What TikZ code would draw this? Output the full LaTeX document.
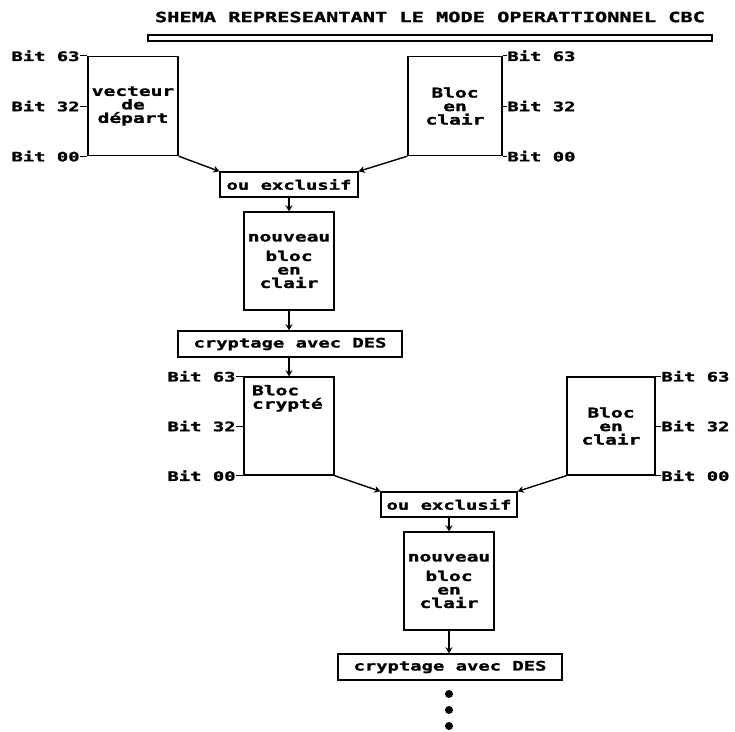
\documentclass[tikz,border=0pt]{standalone}
\usepackage{fontspec}
\usetikzlibrary{arrows.meta,positioning,calc}
\newfontfamily\pixfont[FakeStretch=1.45,FakeBold=1.5]{DejaVu Sans Mono}

\begin{document}
\begin{tikzpicture}[x=1pt,y=-1pt,>={Stealth[length=6pt,width=7pt]},line width=1.4pt,
  every node/.style={font=\pixfont\bfseries\fontsize{13}{13}\selectfont},
  blk/.style={draw,minimum width=90pt,minimum height=99pt,inner sep=1pt,align=center,
    font=\pixfont\bfseries\fontsize{13.5}{13.5}\selectfont},
  op/.style={draw,minimum height=25pt,inner sep=2pt},
  bit/.style={inner sep=0pt}]
        \useasboundingbox (0,0) rectangle (735,731);
        % titre
        \node[font=\pixfont\bfseries\fontsize{14}{14}\selectfont] (titre) at (430,17) {SHEMA REPRESEANTANT LE MODE OPERATTIONNEL CBC};
        \draw (148,35) rectangle (712,41);
        % premier tour
        \node[blk] (vec) at (133,106) {vecteur\\de\\d\'epart};
        \node[blk,minimum width=94pt] (clr1) at (455,106) {Bloc\\en\\clair};
        \node[op,minimum width=138pt] (xor1) at (289,184.5) {ou exclusif};
        \node[blk,minimum height=98pt] (nv1) at (289,261) {nouveau\\[6pt]bloc\\en\\clair};
        \node[op,minimum width=224pt,minimum height=26pt] (des1) at (290,344) {cryptage avec DES};
        % second tour
        \node[blk,minimum height=98pt] (cry) at (289,426) {};
        \node[bit,below right=8pt and 8pt of cry.north west,align=left,
          font=\pixfont\bfseries\fontsize{13.5}{13.5}\selectfont] (crytxt) {Bloc\\crypt\'e};
        \node[blk,minimum width=88pt,minimum height=98pt] (clr2) at (611,426) {Bloc\\en\\clair};
        \node[op,minimum width=136pt] (xor2) at (449,504.5) {ou exclusif};
        \node[blk,minimum height=98pt] (nv2) at (449,581) {nouveau\\[6pt]bloc\\en\\clair};
        \node[op,minimum width=224pt,minimum height=26pt] (des2) at (450,667) {cryptage avec DES};
        \foreach \y in {694,710,726} \fill (449,\y) circle (4);
        % etiquettes des bits
        \foreach \n/\a in {63/north west,32/west,00/south west} {
          \node[bit,left=7pt of vec.\a] (vec\n) {Bit \n};
          \draw[line width=0.9pt] (vec\n) -- (vec.\a);
          \node[bit,left=7pt of cry.\a] (cry\n) {Bit \n};
          \draw[line width=0.9pt] (cry\n) -- (cry.\a);
        }
        \foreach \n/\a in {63/north east,32/east,00/south east} {
          \node[bit,right=4pt of clr1.\a] (clra\n) {Bit \n};
          \draw[line width=0.9pt] (clr1.\a) -- (clra\n);
          \node[bit,right=5pt of clr2.\a] (clrb\n) {Bit \n};
          \draw[line width=0.9pt] (clr2.\a) -- (clrb\n);
        }
        % fleches
        \draw[->] (vec.south east) -- (xor1.north west);
        \draw[->] (clr1.south west) -- (xor1.north east);
        \draw[->] (xor1) -- (nv1);
        \draw[->] (nv1) -- (des1.north -| nv1);
        \draw[->] (des1.south -| cry) -- (cry);
        \draw[->] (cry.south east) -- (xor2.north west);
        \draw[->] (clr2.south west) -- (xor2.north east);
        \draw[->] (xor2) -- (nv2);
        \draw[->] (nv2) -- (des2.north -| nv2);
      \end{tikzpicture}
\end{document}
